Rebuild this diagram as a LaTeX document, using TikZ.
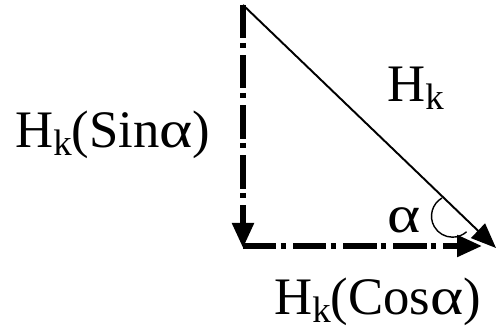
\documentclass[tikz,border=0pt]{standalone}
\usepackage{fontspec}
\setmainfont{Liberation Serif}
\usetikzlibrary{arrows.meta}
\newcommand{\subk}{\raisebox{-4pt}{\fontsize{21}{21}\selectfont k}}
\newcommand{\alp}{\scalebox{1.2}[1]{α}}
\begin{document}
\begin{tikzpicture}[x=0.02cm, y=-0.02cm,
    every node/.style={inner sep=0pt, anchor=base west, font=\fontsize{30}{36}\selectfont},
    comp/.style={line width=3pt, dash pattern=on 19pt off 2.5pt on 3pt off 4pt,
      -{Triangle[length=0.5cm,width=0.42cm]}}]
  \useasboundingbox (0,0) rectangle (498,330);
  \coordinate (top) at (243,5);
  \coordinate (corner) at (243,248);
  \coordinate (start) at (243,246);
  \coordinate (hend) at (482,246);
  \coordinate (tip) at (496,248);
  % Components
  \draw[comp] (top) -- (corner);
  \draw[comp] (start) -- (hend);
  % Vector
  \draw[line width=1.1pt, -{Triangle[length=0.5cm,width=0.4cm]}] (top) -- (tip);
  % Angle
  \draw[line width=0.8pt] (442,198) arc[start angle=240, end angle=48, radius=21];
  % Labels
  \node (hk) at (387,102) {H\subk};
  \node (hsin) at (15,148) {H\subk(Sin\alp)};
  \node (alpha) at (387,233) {\alp};
  \node (hcos) at (274,315) {H\subk(Cos\alp)};
\end{tikzpicture}
\end{document}
